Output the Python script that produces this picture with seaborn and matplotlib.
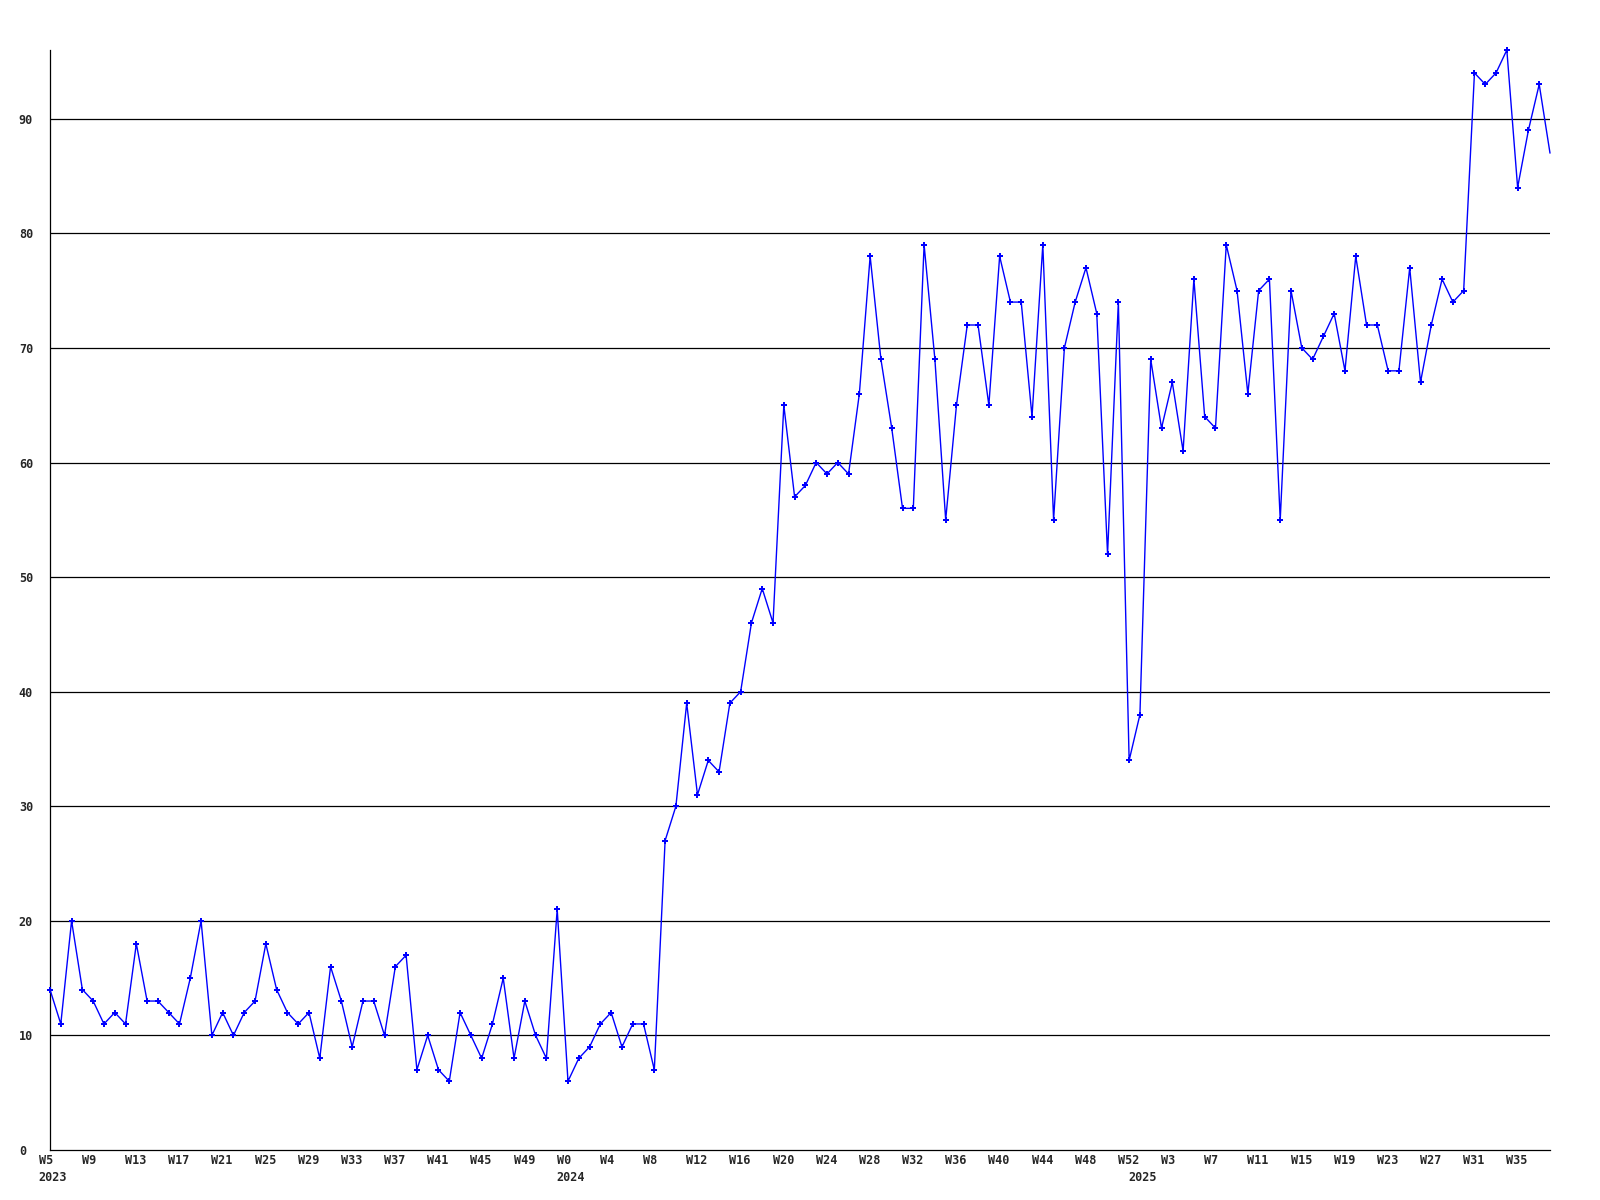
import matplotlib
matplotlib.use("Agg")
import matplotlib.pyplot as plt
import matplotlib.transforms as mtransforms
import seaborn as sns
import pandas as pd

# weekly values, 2023 W5 .. 2025 W38
values_2023 = [14, 11, 20, 14, 13, 11, 12, 11, 18, 13, 13, 12, 11, 15, 20, 10,
               12, 10, 12, 13, 18, 14, 12, 11, 12, 8, 16, 13, 9, 13, 13, 10,
               16, 17, 7, 10, 7, 6, 12, 10, 8, 11, 15, 8, 13, 10, 8, 21]
values_2024 = [6, 8, 9, 11, 12, 9, 11, 11, 7, 27, 30, 39, 31, 34, 33, 39,
               40, 46, 49, 46, 65, 57, 58, 60, 59, 60, 59, 66, 78, 69, 63, 56,
               56, 79, 69, 55, 65, 72, 72, 65, 78, 74, 74, 64, 79, 55, 70, 74,
               77, 73, 52, 74, 34]
values_2025 = [38, 69, 63, 67, 61, 76, 64, 63, 79, 75, 66, 75, 76, 55, 75, 70,
               69, 71, 73, 68, 78, 72, 72, 68, 68, 77, 67, 72, 76, 74, 75, 94,
               93, 94, 96, 84, 89, 93, 87]
weeks_2023 = list(range(5, 53))
weeks_2024 = list(range(0, 53))
weeks_2025 = list(range(0, 39))
years = ["2023", "2024", "2025"]
y_ticks = [0, 10, 20, 30, 40, 50, 60, 70, 80, 90]

values = values_2023 + values_2024 + values_2025
week_labels = ["W%d" % w for w in weeks_2023 + weeks_2024 + weeks_2025]
year_starts = [0, len(weeks_2023), len(weeks_2023) + len(weeks_2024)]
df = pd.DataFrame({"idx": range(len(values)), "value": values})

sns.set_style("white")
plt.rcParams["font.family"] = ["DejaVu Sans Mono"]

fig = plt.figure(figsize=(16, 12), dpi=100)
ax = fig.add_axes([50 / 1600, 50 / 1200, 1500 / 1600, 1100 / 1200])

# last point sits on the right edge and shows no marker in the original
sns.lineplot(data=df, x="idx", y="value", ax=ax, color="#0000FF", linewidth=1,
             marker="P", markersize=4.5, markeredgewidth=0, zorder=3, clip_on=False,
             markevery=list(range(len(values) - 1)))

ax.set_xlim(0, len(values) - 1)
ax.set_ylim(0, max(values))
ax.set_xlabel("")
ax.set_ylabel("")

ax.set_yticks(y_ticks)
ax.set_yticklabels([str(t) for t in y_ticks], fontsize=8.5, fontweight="bold", ha="left")
ax.tick_params(axis="y", length=0, pad=22.5)
for t in y_ticks[1:]:
    ax.axhline(t, color="black", linewidth=0.9, zorder=1)

xt = list(range(0, len(values), 4))
ax.set_xticks(xt)
ax.set_xticklabels([week_labels[i] for i in xt], fontsize=8.5, fontweight="bold", ha="left")
ax.tick_params(axis="x", length=0, pad=3)
offset = mtransforms.ScaledTranslation(-0.112, 0, fig.dpi_scale_trans)
for lab in ax.get_xticklabels():
    lab.set_transform(lab.get_transform() + offset)

for yr, i in zip(years, year_starts):
    ax.annotate(yr, xy=(i, 0), xycoords=("data", "axes fraction"),
                xytext=(-8.06, -15), textcoords="offset points",
                ha="left", va="top", fontsize=8.5, fontweight="bold")

for s in ["top", "right"]:
    ax.spines[s].set_visible(False)
for s in ["left", "bottom"]:
    ax.spines[s].set_color("black")
    ax.spines[s].set_linewidth(0.9)

fig.savefig("out.png", dpi=100, facecolor="white")
